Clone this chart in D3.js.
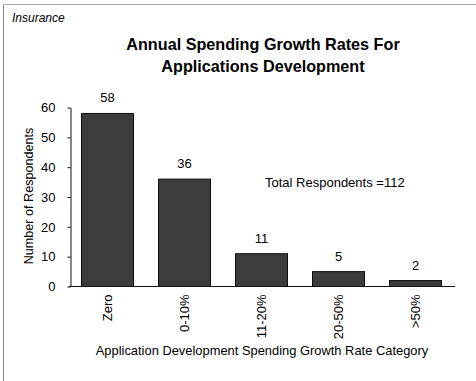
<!DOCTYPE html>
<html>
<head>
<meta charset="utf-8">
<script src="https://cdn.jsdelivr.net/npm/d3@7"></script>
<style>
  html, body { margin: 0; padding: 0; background: #fff; }
  svg { display: block; font-family: "Liberation Sans", Arial, sans-serif; }
</style>
</head>
<body>
<svg id="chart" width="476" height="381"></svg>
<script>
// Survey counts per spending growth category
const categories = ["Zero", "0-10%", "11-20%", "20-50%", ">50%"];
const respondents = [58, 36, 11, 5, 2];
const yTicks = [0, 10, 20, 30, 40, 50, 60];
const totalRespondents = 112;

const svg = d3.select("#chart");

// Frame lines along the top and left edges
svg.append("line").attr("x1", 3.5).attr("x2", 476).attr("y1", 4.5).attr("y2", 4.5)
  .attr("stroke", "#a8a8a8").attr("stroke-width", 1);
svg.append("line").attr("x1", 3.5).attr("x2", 3.5).attr("y1", 4.5).attr("y2", 381)
  .attr("stroke", "#8a8a8a").attr("stroke-width", 1);

svg.append("text").attr("x", 12).attr("y", 22)
  .attr("font-size", 12).attr("font-style", "italic").attr("fill", "#000")
  .text("Insurance");

const title = svg.append("text").attr("text-anchor", "middle")
  .attr("font-size", 16.2).attr("font-weight", "bold").attr("fill", "#000");
title.append("tspan").attr("x", 263).attr("y", 50).text("Annual Spending Growth Rates For");
title.append("tspan").attr("x", 263).attr("y", 72).text("Applications Development");

const x = d3.scaleBand().domain(categories).range([69, 454])
  .paddingInner(0.325).paddingOuter(0.1625);
const y = d3.scaleLinear().domain([0, 60]).range([286.5, 107.5]);

// Bars
svg.append("g").selectAll("rect").data(respondents).join("rect")
  .attr("x", (d, i) => x(categories[i]))
  .attr("y", d => y(d))
  .attr("width", x.bandwidth())
  .attr("height", d => y(0) - y(d))
  .attr("fill", "#3c3c3c")
  .attr("stroke", "#111")
  .attr("stroke-width", 1);

// Value labels above bars
svg.append("g").selectAll("text").data(respondents).join("text")
  .attr("x", (d, i) => x(categories[i]) + x.bandwidth() / 2)
  .attr("y", d => y(d) - 11)
  .attr("text-anchor", "middle").attr("font-size", 13).attr("fill", "#000")
  .text(d => d);

// Y axis
const yAxis = svg.append("g").attr("transform", "translate(70.5,0)")
  .call(d3.axisLeft(y).tickValues(yTicks).tickSize(3).tickSizeOuter(0).tickPadding(12));
yAxis.select(".domain").attr("stroke", "#111");
yAxis.selectAll(".tick line").attr("stroke", "#111");
yAxis.selectAll(".tick text").attr("font-size", 13).attr("fill", "#000")
  .attr("font-family", "Liberation Sans, Arial, sans-serif");

// X axis baseline with rotated category labels
const xAxis = svg.append("g").attr("transform", "translate(0,286.5)")
  .call(d3.axisBottom(x).tickSize(0).tickSizeOuter(0).tickPadding(0));
xAxis.select(".domain").attr("stroke", "#111").attr("d", "M69,0H455");
xAxis.selectAll(".tick text")
  .attr("font-size", 13).attr("fill", "#000")
  .attr("font-family", "Liberation Sans, Arial, sans-serif")
  .attr("text-anchor", "end")
  .attr("transform", "rotate(-90)")
  .attr("x", -8).attr("y", 0).attr("dy", "0.35em");

svg.append("text")
  .attr("transform", "translate(33,196) rotate(-90)")
  .attr("text-anchor", "middle").attr("font-size", 12.6).attr("fill", "#000")
  .text("Number of Respondents");

svg.append("text").attr("x", 262).attr("y", 355)
  .attr("text-anchor", "middle").attr("font-size", 12.9).attr("fill", "#000")
  .text("Application Development Spending Growth Rate Category");

svg.append("text").attr("x", 265).attr("y", 187)
  .attr("font-size", 13).attr("fill", "#000")
  .text("Total Respondents =" + totalRespondents);
</script>
</body>
</html>
